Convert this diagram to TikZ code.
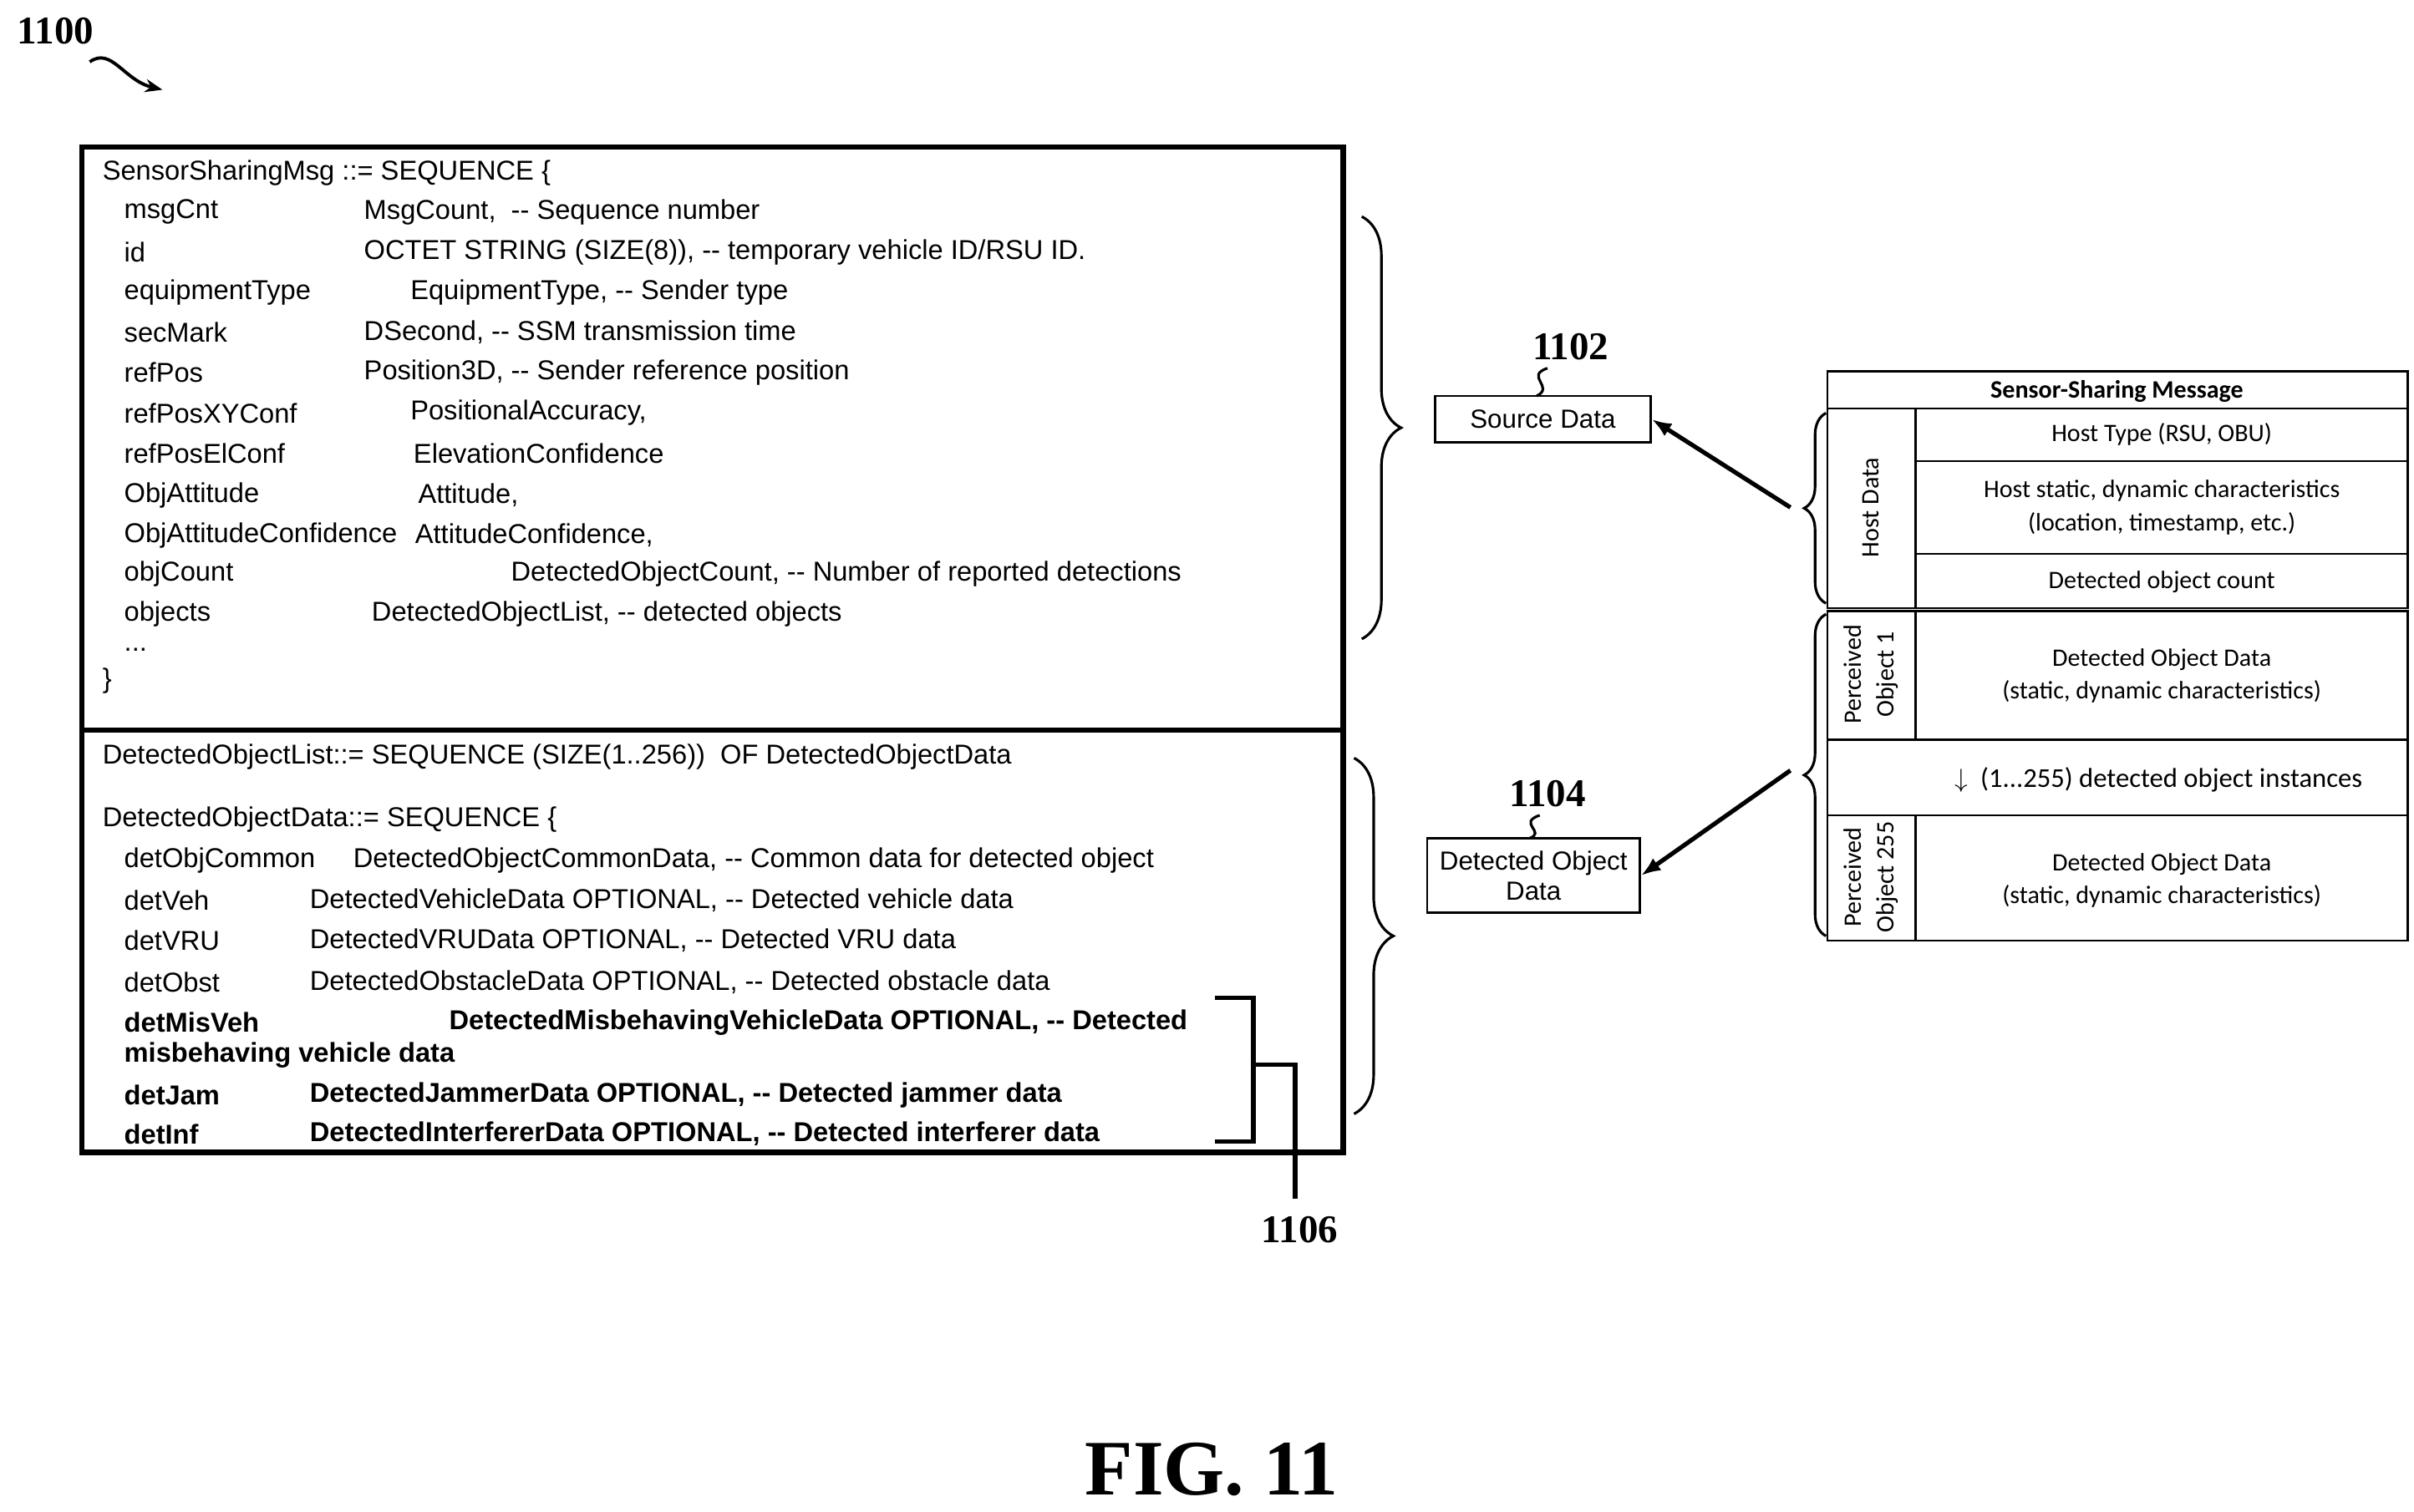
\documentclass[tikz,border=0pt]{standalone}
\usepackage{fontspec}
\setmainfont{Liberation Serif}
\newfontfamily\arialfont{Liberation Sans}
\newfontfamily\calfont{Carlito}
\usetikzlibrary{decorations.pathreplacing,arrows.meta}
\tikzset{
  code/.style={anchor=west,inner sep=0pt,font=\arialfont\fontsize{12.5}{14}\selectfont},
  bcode/.style={code,font=\arialfont\bfseries\fontsize{12.5}{14}\selectfont},
  tab/.style={inner sep=0pt,align=center,font=\calfont\fontsize{11.5}{15}\selectfont},
  refnum/.style={inner sep=0pt,font=\bfseries\fontsize{18}{20}\selectfont},
  brc/.style={decorate,decoration={brace,amplitude=18pt},line width=1.2pt},
  box/.style={draw,line width=1pt,inner sep=0pt}
}
\begin{document}
\begin{tikzpicture}[x=0.02492cm,y=-0.02492cm]
\useasboundingbox (0,0) rectangle (1560,977);
% figure number
\node[refnum] (fig) at (36,20) {1100};
\draw[-{Stealth[length=8pt]},line width=1.5pt] (58,40) .. controls (72,30) and (80,52) .. (105,58);
% ASN.1 boxes
\draw[line width=2.5pt] (53,95) rectangle (868,472);
\draw[line width=2.5pt] (53,472) rectangle (868,745);
\node[code] (s0) at (66,112) {SensorSharingMsg ::= SEQUENCE \{};
\node[code] at (80,137) {msgCnt};        \node[code] at (235,137) {MsgCount,~ -- Sequence number};
\node[code] at (80,163) {id};            \node[code] at (235,163) {OCTET STRING (SIZE(8)), -- temporary vehicle ID/RSU ID.};
\node[code] at (80,189) {equipmentType}; \node[code] at (265,189) {EquipmentType, -- Sender type};
\node[code] at (80,215) {secMark};       \node[code] at (235,215) {DSecond, -- SSM transmission time};
\node[code] at (80,241) {refPos};        \node[code] at (235,241) {Position3D, -- Sender reference position};
\node[code] at (80,267) {refPosXYConf};  \node[code] at (265,267) {PositionalAccuracy,};
\node[code] at (80,293) {refPosElConf};  \node[code] at (267,293) {ElevationConfidence};
\node[code] at (80,320) {ObjAttitude};   \node[code] at (270,320) {Attitude,};
\node[code] at (80,346) {ObjAttitudeConfidence};  \node[code] at (268,346) {AttitudeConfidence,};
\node[code] at (80,371) {objCount};      \node[code] at (330,371) {DetectedObjectCount, -- Number of reported detections};
\node[code] at (80,397) {objects};       \node[code] at (240,397) {DetectedObjectList, -- detected objects};
\node[code] at (80,420) {...};
\node[code] at (66,440) {\}};
\node[code] at (66,489) {DetectedObjectList::= SEQUENCE (SIZE(1..256))~ OF DetectedObjectData};
\node[code] at (66,530) {DetectedObjectData::= SEQUENCE \{};
\node[code] at (80,556) {detObjCommon};  \node[code] at (228,556) {DetectedObjectCommonData, -- Common data for detected object};
\node[code] at (80,582) {detVeh};        \node[code] at (200,582) {DetectedVehicleData OPTIONAL, -- Detected vehicle data};
\node[code] at (80,608) {detVRU};        \node[code] at (200,608) {DetectedVRUData OPTIONAL, -- Detected VRU data};
\node[code] at (80,635) {detObst};       \node[code] at (200,635) {DetectedObstacleData OPTIONAL, -- Detected obstacle data};
\node[bcode] at (80,661) {detMisVeh};    \node[bcode] at (290,661) {DetectedMisbehavingVehicleData OPTIONAL, -- Detected};
\node[bcode] at (80,682) {misbehaving vehicle data};
\node[bcode] at (80,708) {detJam};       \node[bcode] at (200,708) {DetectedJammerData OPTIONAL, -- Detected jammer data};
\node[bcode] at (80,733) {detInf};       \node[bcode] at (200,733) {DetectedInterfererData OPTIONAL, -- Detected interferer data};
% bracket 1106
\draw[line width=2pt] (785,645) -- (810,645) -- (810,738) -- (785,738);
\node[refnum] (n1106) at (840,795) {1106};
\coordinate (brk) at (810,688);
\draw[line width=2pt] (brk) -- (837,688) -- (837,775);
% braces
\draw[brc] (880,140) -- (880,413) coordinate[pos=0.5] (b1);
\draw[brc] (875,490) -- (875,720) coordinate[pos=0.5] (b2);
% targets
\node[box,minimum width=139*0.025cm,minimum height=30*0.025cm,font=\arialfont\fontsize{12}{14}\selectfont] (src) at (997,271) {Source Data};
\node[refnum] (n1102) at (1015,224) {1102};
\draw[line width=1.2pt] (1000,238) .. controls (985,243) and (1005,250) .. (993,256);
\node[box,minimum width=137*0.025cm,minimum height=48*0.025cm,align=center,font=\arialfont\fontsize{12}{13.5}\selectfont] (det) at (991,566) {Detected Object\\Data};
\node[refnum] (n1104) at (1000,513) {1104};
\draw[line width=1.2pt] (995,527) .. controls (980,532) and (1000,538) .. (988,542);
% table
\draw[line width=1pt] (1181,240) rectangle (1556,393);
\draw[line width=1pt] (1181,264) -- (1556,264);
\draw[line width=1pt] (1238,264) -- (1238,393) (1238,298) -- (1556,298) (1238,358) -- (1556,358);
\node[tab,font=\calfont\bfseries\fontsize{11.5}{13}\selectfont] (hdr) at (1368,253) {Sensor-Sharing Message};
\node[tab] at (1397,281) {Host Type (RSU, OBU)};
\node[tab] at (1397,328) {Host static, dynamic characteristics\\(location, timestamp, etc.)};
\node[tab] at (1397,376) {Detected object count};
\node[tab,rotate=90] at (1209,328) {Host Data};
\draw[line width=1pt] (1181,395) rectangle (1556,608);
\draw[line width=1pt] (1181,478) -- (1556,478) (1181,527) -- (1556,527);
\draw[line width=1pt] (1238,395) -- (1238,478) (1238,527) -- (1238,608);
\node[tab,rotate=90] at (1209,436) {Perceived\\Object 1};
\node[tab] at (1397,437) {Detected Object Data\\(static, dynamic characteristics)};
\node[tab,font=\calfont\fontsize{12.5}{14}\selectfont] at (1395,504) {$\downarrow$~ (1...255) detected object instances};
\node[tab,rotate=90] at (1209,567) {Perceived\\Object 255};
\node[tab] at (1397,569) {Detected Object Data\\(static, dynamic characteristics)};
% table braces
\draw[brc,decoration={brace,amplitude=10pt}] (1180,390) -- (1180,267) coordinate[pos=0.5] (b3);
\draw[brc,decoration={brace,amplitude=10pt}] (1180,605) -- (1180,397) coordinate[pos=0.5] (b4);
\coordinate (t3) at (1157,328);
\coordinate (t4) at (1157,498);
\draw[-{Latex[length=9pt]},line width=2pt] (t3) -- (src.east);
\draw[-{Latex[length=9pt]},line width=2pt] (t4) -- (det.east);
\node[inner sep=0pt,font=\bfseries\fontsize{36}{40}\selectfont] (figlab) at (783,950) {FIG. 11};
\end{tikzpicture}
\end{document}
